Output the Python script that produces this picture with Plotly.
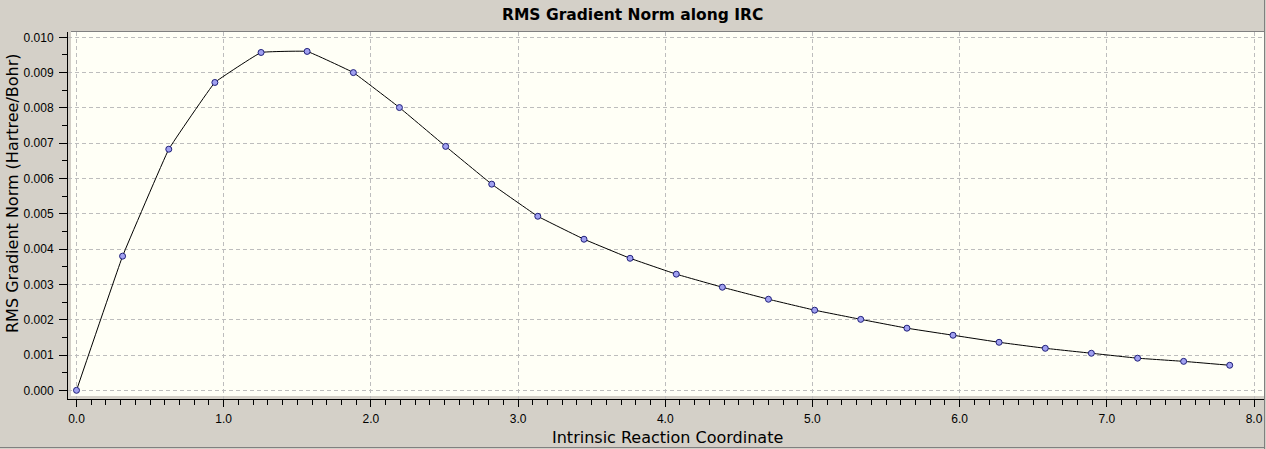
import plotly.graph_objects as go

irc_x = [0.0, 0.313, 0.627, 0.940, 1.254, 1.567, 1.881, 2.194, 2.508, 2.821,
         3.134, 3.448, 3.761, 4.075, 4.388, 4.701, 5.015, 5.328, 5.642, 5.955,
         6.268, 6.582, 6.895, 7.209, 7.522, 7.835]
rms_grad = [0.00000, 0.00380, 0.00683, 0.00872, 0.00957, 0.00960, 0.00900, 0.00801,
            0.00691, 0.00584, 0.00493, 0.00428, 0.00374, 0.00329, 0.00292, 0.00258,
            0.00227, 0.00201, 0.00176, 0.00156, 0.00136, 0.00119, 0.00105, 0.00091,
            0.00082, 0.00071]
x_ticks = [0, 1, 2, 3, 4, 5, 6, 7, 8]
x_tick_labels = ["0.0", "1.0", "2.0", "3.0", "4.0", "5.0", "6.0", "7.0", "8.0"]
y_ticks = [0.000, 0.001, 0.002, 0.003, 0.004, 0.005, 0.006, 0.007, 0.008, 0.009, 0.010]
y_tick_labels = ["0.000", "0.001", "0.002", "0.003", "0.004", "0.005",
                 "0.006", "0.007", "0.008", "0.009", "0.010"]

W, H = 1266, 449
L, R, T, B = 68, 2, 32, 50
pw, ph = W - L - R, H - T - B

def px(p):
    return (p - L) / pw

def py(p):
    return (H - B - p) / ph

BG = "#D4D0C8"
FONT = "Liberation Sans, Arial, sans-serif"
TFONT = "DejaVu Sans, Verdana, sans-serif"
GRID = "#BDBDBD"

fig = go.Figure()
fig.add_trace(go.Scatter(
    x=irc_x, y=rms_grad, mode="lines+markers",
    line=dict(color="black", width=1, shape="spline", smoothing=0.2),
    marker=dict(size=6, color="#A0A0F0", line=dict(color="#20207A", width=1)),
    showlegend=False,
))

fig.update_layout(
    width=W, height=H,
    margin=dict(l=L, r=R, t=T, b=B),
    paper_bgcolor=BG, plot_bgcolor=BG,
    font=dict(family=FONT, color="black", size=12),
    xaxis=dict(
        range=[-8.5 / 147.2, 8 + 10 / 147.2], tickvals=x_ticks, ticktext=x_tick_labels,
        showgrid=True, gridcolor=GRID, griddash="4px,3px", gridwidth=1,
        zeroline=False, showline=True, linecolor="black", linewidth=1,
        ticks="outside", ticklen=7, tickcolor="black", ticklabelstandoff=2,
        minor=dict(dtick=0.1, ticks="outside", ticklen=5, tickcolor="black", showgrid=False),
        tickfont=dict(size=12, family=FONT),
    ),
    yaxis=dict(
        range=[-0.000246, 0.01015], tickvals=y_ticks, ticktext=y_tick_labels,
        showgrid=True, gridcolor=GRID, griddash="4px,3px", gridwidth=1,
        zeroline=False, showline=True, linecolor="black", linewidth=1,
        ticks="outside", ticklen=8, tickcolor="black", ticklabelstandoff=3,
        minor=dict(dtick=0.0005, ticks="outside", ticklen=5, tickcolor="black", showgrid=False),
        tickfont=dict(size=12, family=FONT),
    ),
    shapes=[
        dict(type="rect", xref="paper", yref="paper", x0=px(71), x1=px(1264), y0=py(396), y1=py(32),
             fillcolor="#FFFFF6", line=dict(width=0), layer="below"),
        dict(type="line", xref="paper", yref="paper", x0=px(71), x1=px(1264.5), y0=py(31.5), y1=py(31.5),
             line=dict(color="#808080", width=1)),
        dict(type="line", xref="paper", yref="paper", x0=px(1264.5), x1=px(1264.5), y0=py(0), y1=py(449),
             line=dict(color="#808080", width=1)),
        dict(type="line", xref="paper", yref="paper", x0=px(0), x1=px(1265), y0=py(447.5), y1=py(447.5),
             line=dict(color="#808080", width=1)),
    ],
    annotations=[
        dict(text="<b>RMS Gradient Norm along IRC</b>", xref="paper", yref="paper",
             x=px(632), y=py(15), xanchor="center", yanchor="middle", showarrow=False,
             font=dict(size=15.5, family=TFONT, color="black")),
        dict(text="Intrinsic Reaction Coordinate", xref="paper", yref="paper",
             x=px(667), y=py(437), xanchor="center", yanchor="middle", showarrow=False,
             font=dict(size=16, family=TFONT, color="black")),
        dict(text="RMS Gradient Norm (Hartree/Bohr)", xref="paper", yref="paper",
             x=px(12), y=py(193), xanchor="center", yanchor="middle", showarrow=False,
             textangle=-90, font=dict(size=16, family=TFONT, color="black")),
    ],
)

fig.write_html("out.html", config={"displayModeBar": False},
               post_script="document.body.style.margin='0px';document.body.style.overflow='hidden';")
